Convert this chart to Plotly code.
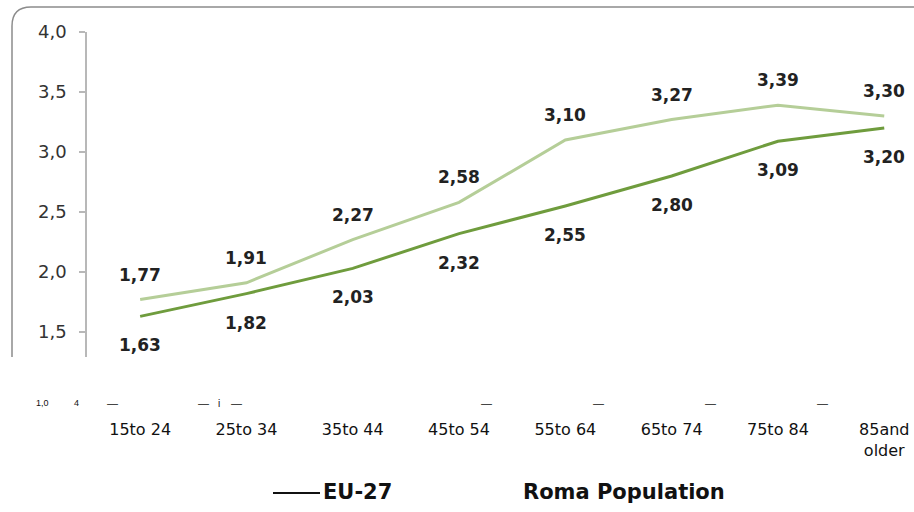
import plotly.graph_objects as go

# Age groups (x axis) and the two series
age_groups = ["15to 24", "25to 34", "35to 44", "45to 54",
              "55to 64", "65to 74", "75to 84", "85and<br>older"]
roma_values = [1.77, 1.91, 2.27, 2.58, 3.10, 3.27, 3.39, 3.30]
eu27_values = [1.63, 1.82, 2.03, 2.32, 2.55, 2.80, 3.09, 3.20]
y_ticks = [1.5, 2.0, 2.5, 3.0, 3.5, 4.0]

series_names = ["EU-27", "Roma Population"]
stray_marks = ["1,0", "4", "\u2014", "\u2014", "i", "\u2014",
               "\u2014", "\u2014", "\u2014", "\u2014"]

EU_GREEN = "#6f9c3d"
ROMA_GREEN = "#b5ce98"

W, H = 914, 512
L, R, T, B = 87, 0, 32, 155
PW, PH = W - L - R, H - T - B


def px(x):
    return (x - L) / PW


def py(y):
    return (H - B - y) / PH


def fmt(v):
    return f"{v:.2f}".replace(".", ",")


fig = go.Figure()
fig.add_trace(go.Scatter(x=age_groups, y=roma_values, mode="lines",
                         name=series_names[1],
                         line=dict(color=ROMA_GREEN, width=3)))
fig.add_trace(go.Scatter(x=age_groups, y=eu27_values, mode="lines",
                         name=series_names[0],
                         line=dict(color=EU_GREEN, width=3)))

annotations = []
label_font = dict(family="DejaVu Sans", size=17, color="#222222", weight="bold")
for cat, v in zip(age_groups, roma_values):
    annotations.append(dict(x=cat, y=v, xref="x", yref="y", text=fmt(v),
                            showarrow=False, yshift=25, font=label_font))
for cat, v in zip(age_groups, eu27_values):
    annotations.append(dict(x=cat, y=v, xref="x", yref="y", text=fmt(v),
                            showarrow=False, yshift=-29, font=label_font))

# small marks on the row above the category labels
mark_x = [42, 76, 112, 203, 219, 236, 486, 598, 710, 822]
mark_sizes = [9, 9, 11, 11, 10, 11, 11, 11, 11, 11]
for t, x, s in zip(stray_marks, mark_x, mark_sizes):
    annotations.append(dict(x=px(x), y=py(403), xref="paper", yref="paper",
                            text=t, showarrow=False, xanchor="center",
                            yanchor="middle",
                            font=dict(family="Liberation Sans", size=s,
                                      color="#111111")))

# legend row
legend_font = dict(family="DejaVu Sans", size=21, color="#111111", weight="bold")
annotations.append(dict(x=px(321), y=py(492), xref="paper", yref="paper",
                        text=series_names[0], showarrow=False, xanchor="left",
                        yanchor="middle", font=legend_font))
annotations.append(dict(x=px(624), y=py(492), xref="paper", yref="paper",
                        text=series_names[1], showarrow=False, xanchor="center",
                        yanchor="middle", font=legend_font))

shapes = [
    # legend line sample
    dict(type="line", xref="paper", yref="paper",
         x0=px(273), x1=px(320), y0=py(493), y1=py(493),
         line=dict(color="#111111", width=2)),
    # rounded frame (left and top edges)
    dict(type="path", xref="paper", yref="paper",
         path=(f"M {px(12)},{py(357)} L {px(12)},{py(26)} "
               f"Q {px(12)},{py(7)} {px(31)},{py(7)} L {px(914)},{py(7)}"),
         line=dict(color="#8c8c8c", width=1.5)),
]

fig.update_layout(
    width=W, height=H,
    margin=dict(l=L, r=R, t=T, b=B),
    paper_bgcolor="white", plot_bgcolor="white",
    separators=",.",
    showlegend=False,
    annotations=annotations,
    shapes=shapes,
    xaxis=dict(
        range=[-0.5, (W - L - R) / 106.3 - 0.5],
        showgrid=False, zeroline=False, showline=False, ticks="",
        tickfont=dict(family="DejaVu Sans", size=16, color="#111111"),
        ticklabelstandoff=61,
        fixedrange=True,
    ),
    yaxis=dict(
        range=[4.0 - PH / 120.0, 4.0],
        tickvals=y_ticks, tickformat=".1f",
        showgrid=False, zeroline=False,
        showline=True, linecolor="#b8b8b8", linewidth=1.5,
        ticks="outside", ticklen=6, tickcolor="#b8b8b8", tickwidth=1.5,
        tickfont=dict(family="DejaVu Sans", size=18, color="#333333"),
        ticklabelstandoff=9,
        fixedrange=True,
    ),
)

fig.write_html("out.html")
